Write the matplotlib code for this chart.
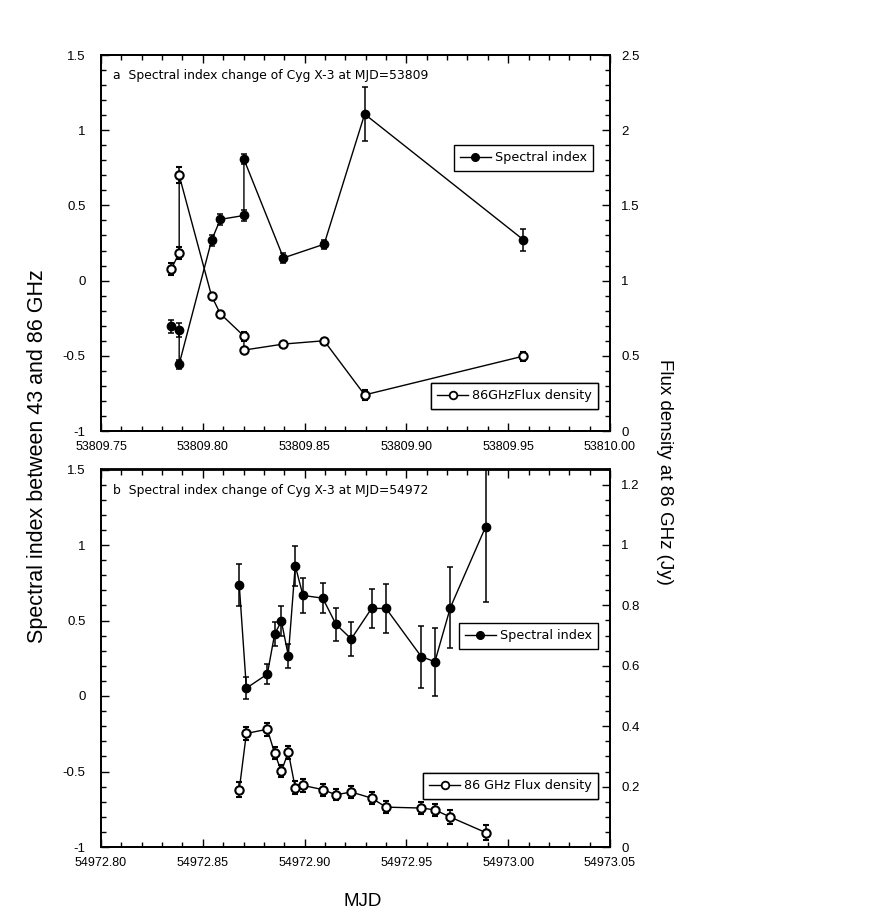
import matplotlib
matplotlib.use("Agg")
import matplotlib.pyplot as plt
from matplotlib.ticker import MultipleLocator, FormatStrFormatter
from matplotlib.lines import Line2D

# ---------------- data ----------------
# Panel a (MJD 53809)
mjd_a = [53809.7846, 53809.7884, 53809.7884, 53809.8043, 53809.8086, 53809.8202,
         53809.8202, 53809.8396, 53809.8596, 53809.8795, 53809.9575]
alpha_a = [-0.305, -0.329, -0.555, 0.267, 0.407, 0.433, 0.807, 0.151, 0.242, 1.107, 0.271]
alpha_a_err = [0.042, 0.045, 0.03, 0.035, 0.035, 0.035, 0.035, 0.035, 0.03, 0.178, 0.072]
flux_a = [1.078, 1.185, 1.70, 0.898, 0.78, 0.631, 0.538, 0.578, 0.60, 0.24, 0.498]
flux_a_err = [0.04, 0.04, 0.053, 0.015, 0.015, 0.03, 0.015, 0.015, 0.015, 0.035, 0.03]

# Panel b (MJD 54972)
mjd_b = [54972.8679, 54972.8714, 54972.8817, 54972.8853, 54972.8886, 54972.8920,
         54972.8954, 54972.8992, 54972.9089, 54972.9154, 54972.9229, 54972.9329,
         54972.9400, 54972.9573, 54972.9640, 54972.9716, 54972.9889]
alpha_b = [0.737, 0.052, 0.145, 0.411, 0.495, 0.267, 0.863, 0.666, 0.648, 0.475,
           0.378, 0.580, 0.580, 0.261, 0.227, 0.586, 1.12]
alpha_b_err = [0.14, 0.075, 0.067, 0.079, 0.10, 0.08, 0.133, 0.114, 0.10, 0.11,
               0.11, 0.128, 0.16, 0.205, 0.226, 0.265, 0.50]
flux_b = [0.19, 0.376, 0.39, 0.31, 0.251, 0.314, 0.196, 0.204, 0.19, 0.173,
          0.182, 0.162, 0.132, 0.129, 0.123, 0.099, 0.048]
flux_b_err = [0.026, 0.022, 0.022, 0.02, 0.02, 0.022, 0.022, 0.022, 0.02, 0.018,
              0.02, 0.02, 0.02, 0.02, 0.02, 0.022, 0.025]

title_a = "a  Spectral index change of Cyg X-3 at MJD=53809"
title_b = "b  Spectral index change of Cyg X-3 at MJD=54972"
leg_alpha = "Spectral index"
leg_flux_a = "86GHzFlux density"
leg_flux_b = "86 GHz Flux density"

# ---------------- style ----------------
W, H = 872, 918
fig = plt.figure(figsize=(W / 100, H / 100), dpi=100)
TICKFONT = "Liberation Sans"
TXTFONT = "DejaVu Sans"

def px_rect(x0, y0, x1, y1):
    return [x0 / W, 1 - y1 / H, (x1 - x0) / W, (y1 - y0) / H]

def style_axis(ax, tw, xmin, xmax, ylim_l, ylim_r, rmaj, rmin):
    ax.set_xlim(xmin, xmax)
    ax.set_ylim(*ylim_l)
    tw.set_ylim(*ylim_r)
    ax.xaxis.set_major_locator(MultipleLocator(0.05))
    ax.xaxis.set_minor_locator(MultipleLocator(0.01))
    ax.xaxis.set_major_formatter(FormatStrFormatter("%.2f"))
    ax.yaxis.set_major_locator(MultipleLocator(0.5))
    ax.yaxis.set_minor_locator(MultipleLocator(0.1))
    ax.yaxis.set_major_formatter(FormatStrFormatter("%g"))
    tw.yaxis.set_major_locator(MultipleLocator(rmaj))
    tw.yaxis.set_minor_locator(MultipleLocator(rmin))
    tw.yaxis.set_major_formatter(FormatStrFormatter("%g"))
    ax.tick_params(axis="x", which="both", direction="in", top=True, bottom=True,
                   labelsize=9, pad=7)
    ax.tick_params(axis="y", which="both", direction="in", left=True, right=False,
                   labelsize=9.5, pad=11)
    ax.tick_params(which="major", length=6, width=1)
    ax.tick_params(which="minor", length=3.5, width=1)
    tw.tick_params(axis="y", which="both", direction="in", right=True, labelsize=9.5, pad=8)
    tw.tick_params(which="major", length=6, width=1)
    tw.tick_params(which="minor", length=3.5, width=1)
    for a in (ax, tw):
        for lab in a.get_xticklabels() + a.get_yticklabels():
            lab.set_fontfamily(TICKFONT)
        for s in a.spines.values():
            s.set_linewidth(1.3)

def draw_panel(rect, mjd, alpha, alpha_err, flux, flux_err, xmin, xmax,
               ylim_r, rmaj, rmin, title, leg_flux, leg1_loc, leg2_loc):
    ax = fig.add_axes(rect)
    tw = ax.twinx()
    ax.errorbar(mjd, alpha, yerr=alpha_err, fmt="o", color="black", ms=6,
                lw=1, elinewidth=1.1, capsize=2.5, capthick=1.1, ls="-", zorder=3)
    tw.errorbar(mjd, flux, yerr=flux_err, fmt="o", color="black", mfc="white",
                mec="black", mew=1.5, ms=6, lw=1, elinewidth=1.1, capsize=2.5,
                capthick=1.1, ls="-", zorder=3)
    style_axis(ax, tw, xmin, xmax, (-1, 1.5), ylim_r, rmaj, rmin)
    ax.text(0.024, 0.962, title, transform=ax.transAxes, ha="left", va="top",
            fontsize=8.9, family=TXTFONT)
    h1 = Line2D([], [], color="black", lw=1, marker="o", ms=5.5)
    h2 = Line2D([], [], color="black", lw=1, marker="o", ms=5.5, mfc="white", mew=1.3)
    for h, lab, loc in ((h1, leg_alpha, leg1_loc), (h2, leg_flux, leg2_loc)):
        leg = tw.legend([h], [lab], loc="upper right", bbox_to_anchor=loc,
                        bbox_transform=fig.transFigure, fancybox=False,
                        framealpha=1, edgecolor="black",
                        handlelength=2.4, numpoints=1, borderpad=0.5,
                        handletextpad=0.3, borderaxespad=0,
                        prop={"family": TXTFONT, "size": 9.2})
        leg.get_frame().set_linewidth(1)
        tw.add_artist(leg)
    return ax, tw

draw_panel(px_rect(101, 55, 610, 431), mjd_a, alpha_a, alpha_a_err, flux_a, flux_a_err,
           53809.75, 53810.00, (0, 2.5), 0.5, 0.1, title_a, leg_flux_a,
           (593 / W, 1 - 145 / H), (598 / W, 1 - 383 / H))
draw_panel(px_rect(101, 469.5, 610, 847), mjd_b, alpha_b, alpha_b_err, flux_b, flux_b_err,
           54972.80, 54973.05, (0, 1.25), 0.2, 0.05, title_b, leg_flux_b,
           (598 / W, 1 - 623 / H), (598 / W, 1 - 773 / H))

fig.text(37 / W, 1 - 456 / H, "Spectral index between 43 and 86 GHz", rotation=90,
         ha="center", va="center", fontsize=15.5, family=TICKFONT)
fig.text(664 / W, 1 - 472 / H, "Flux density at 86 GHz (Jy)", rotation=270,
         ha="center", va="center", fontsize=13.5, family=TICKFONT)
fig.text(363 / W, 1 - 901 / H, "MJD", ha="center", va="center", fontsize=13.5,
         family=TICKFONT)

fig.savefig("out.png", dpi=100)
